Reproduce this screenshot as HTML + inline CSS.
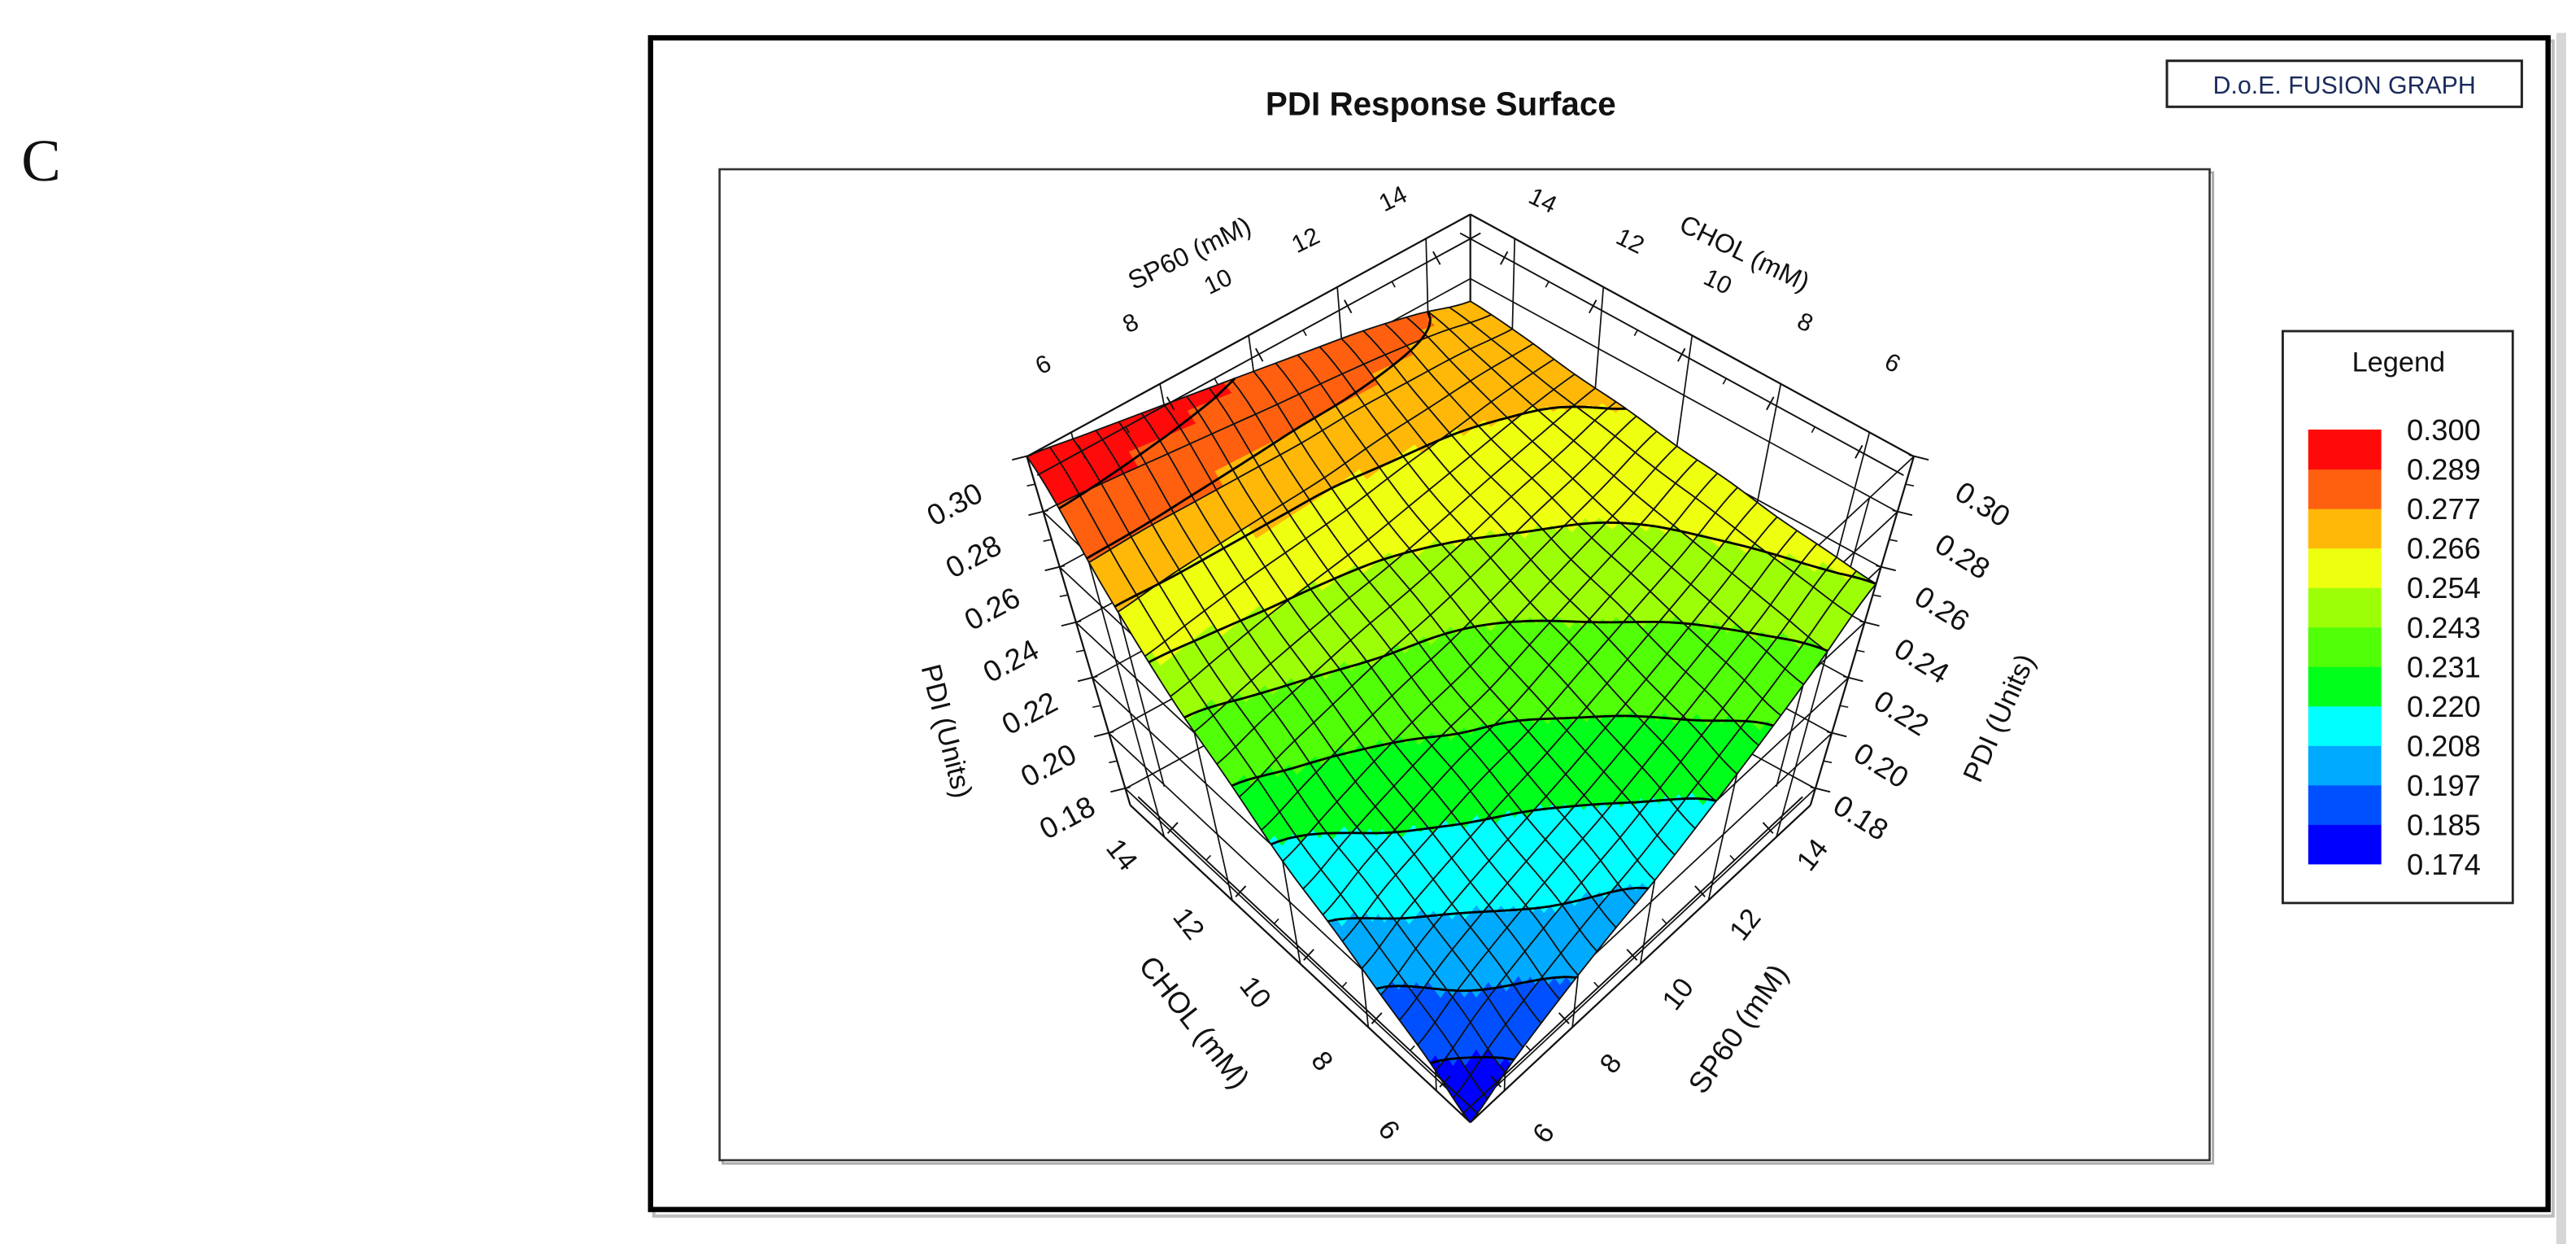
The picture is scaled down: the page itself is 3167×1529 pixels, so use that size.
<!DOCTYPE html>
<html><head><meta charset="utf-8"><title>PDI Response Surface</title>
<style>
html,body{margin:0;padding:0;background:#fff;}
body{width:3167px;height:1529px;overflow:hidden;}
svg{display:block;}
text{font-family:"Liberation Sans",sans-serif;fill:#111;}
</style></head>
<body>
<svg id="chart" width="3167" height="1529" viewBox="0 0 1568 757" preserveAspectRatio="none" xmlns="http://www.w3.org/2000/svg">
  <text x="13" y="110" style="font-family:'Liberation Serif',serif;font-size:36px;">C</text>
  <rect x="1556" y="20" width="6" height="740" fill="#d6d6d6"/>
  <rect x="398" y="25" width="1156" height="715" fill="none" stroke="#bdbdbd" stroke-width="2"/>
  <rect x="396" y="23" width="1155" height="713" fill="#fff" stroke="#000" stroke-width="3.2"/>
  <text x="877" y="70" text-anchor="middle" style="font-size:20px;font-weight:bold;">PDI Response Surface</text>
  <rect x="1319" y="37" width="216" height="28" fill="#fff" stroke="#222" stroke-width="1.5"/>
  <text x="1427" y="57" text-anchor="middle" style="font-size:15px;fill:#1a2a5a;">D.o.E. FUSION GRAPH</text>
  <rect x="440" y="105" width="907" height="603" fill="none" stroke="#aaa" stroke-width="1.5"/>
  <rect x="438" y="103" width="907" height="603" fill="#fff" stroke="#333" stroke-width="1.3"/>
  <g id="plot3d"></g>
  <g>
    <rect x="1389.5" y="201.5" width="140" height="348" fill="#fff" stroke="#222" stroke-width="1.4"/>
    <text x="1460" y="226" text-anchor="middle" style="font-size:17px;">Legend</text>
    <g id="legendItems"></g>
  </g>
</svg>
<script>
// ---- data ----
const sp60 = [5, 6.25, 7.5, 8.75, 10, 11.25, 12.5, 13.75, 15];
const chol = [5, 6.25, 7.5, 8.75, 10, 11.25, 12.5, 13.75, 15];
// rows: chol index, columns: sp60 index
const pdiRow0 = [0.174,0.185,0.194,0.202,0.209,0.218,0.228,0.240,0.254];
const pdiRow1 = [0.186,0.196,0.204,0.211,0.217,0.225,0.234,0.244,0.256];
const pdiRow2 = [0.196,0.205,0.212,0.218,0.224,0.231,0.239,0.248,0.258];
const pdiRow3 = [0.207,0.215,0.221,0.227,0.231,0.238,0.245,0.252,0.261];
const pdiRow4 = [0.217,0.223,0.229,0.234,0.238,0.244,0.250,0.256,0.263];
const pdiRow5 = [0.232,0.237,0.241,0.245,0.248,0.252,0.257,0.261,0.266];
const pdiRow6 = [0.247,0.250,0.253,0.255,0.257,0.260,0.263,0.266,0.268];
const pdiRow7 = [0.270,0.271,0.271,0.271,0.271,0.272,0.272,0.272,0.271];
const pdiRow8 = [0.300,0.297,0.294,0.291,0.288,0.285,0.282,0.278,0.273];
const pdi = [pdiRow0,pdiRow1,pdiRow2,pdiRow3,pdiRow4,pdiRow5,pdiRow6,pdiRow7,pdiRow8];
const levels = [0.174,0.185,0.197,0.208,0.220,0.231,0.243,0.254,0.266,0.277,0.289,0.300];
const levelLabels = ["0.174","0.185","0.197","0.208","0.220","0.231","0.243","0.254","0.266","0.277","0.289","0.300"];
const bandColors = ["#0000ff","#0050ff","#00aaff","#00ffff","#00ff1a","#50ff08","#9cff08","#eeff10","#ffb808","#ff6010","#ff0a0a"];
const xTicks = [6, 8, 10, 12, 14];
const yTicks = [6, 8, 10, 12, 14];
const xMinorTicks = [7, 9, 11, 13];
const yMinorTicks = [7, 9, 11, 13];
const zTicks = [0.18, 0.20, 0.22, 0.24, 0.26, 0.28, 0.30];
const zMinorTicks = [0.19, 0.21, 0.23, 0.25, 0.27, 0.29];
const zTickLabels = ["0.18","0.20","0.22","0.24","0.26","0.28","0.30"];

// ---- axes / projection ----
const X_MIN=5, X_MAX=15, Y_MIN=5, Y_MAX=15, Z_MIN=0.174, Z_MAX=0.300;
const VP=[895,1188], FF=[895,683], FR=[1102,490], FL=[688,490], FB=[895,377], PERSP=0.304;
function uOf(x){return (x-X_MIN)/(X_MAX-X_MIN);}
function vOf(y){return (y-Y_MIN)/(Y_MAX-Y_MIN);}
function wOf(z){return (z-Z_MIN)/(Z_MAX-Z_MIN);}
function proj(u,v,w){
  const fx=(1-u)*(1-v)*FF[0]+u*(1-v)*FR[0]+(1-u)*v*FL[0]+u*v*FB[0];
  const fy=(1-u)*(1-v)*FF[1]+u*(1-v)*FR[1]+(1-u)*v*FL[1]+u*v*FB[1];
  const s=1+PERSP*w;
  return [VP[0]+(fx-VP[0])*s, VP[1]+(fy-VP[1])*s];
}
function cr(p0,p1,p2,p3,t){return 0.5*(2*p1+(-p0+p2)*t+(2*p0-5*p1+4*p2-p3)*t*t+(-p0+3*p1-3*p2+p3)*t*t*t);}
function gv(i,j){const n=sp60.length-1,m=chol.length-1;i=Math.max(0,Math.min(n,i));j=Math.max(0,Math.min(m,j));return pdi[j][i];}
function surf(u,v){
  const n=sp60.length-1,m=chol.length-1;
  const gx=u*n, gy=v*m;
  let ix=Math.min(n-1,Math.floor(gx)), iy=Math.min(m-1,Math.floor(gy));
  const tx=gx-ix, ty=gy-iy;
  const r=[];
  for(let k=-1;k<=2;k++) r.push(cr(gv(ix-1,iy+k),gv(ix,iy+k),gv(ix+1,iy+k),gv(ix+2,iy+k),tx));
  return cr(r[0],r[1],r[2],r[3],ty);
}
function bandOf(z){for(let b=0;b<bandColors.length;b++){if(z<levels[b+1])return b;}return bandColors.length-1;}

const NS="http://www.w3.org/2000/svg";
const G=document.getElementById('plot3d');
function mk(tag,attrs,parent){const e=document.createElementNS(NS,tag);for(const k in attrs)e.setAttribute(k,attrs[k]);(parent||G).appendChild(e);return e;}
function pt(p){return p[0].toFixed(2)+","+p[1].toFixed(2);}
function line(a,b,sw,name,col){
  const e=mk('line',{x1:a[0].toFixed(2),y1:a[1].toFixed(2),x2:b[0].toFixed(2),y2:b[1].toFixed(2),stroke:col||'#111','stroke-width':sw});
  
  
  return e;
}
function label(txt,x,y,rot,size,name){
  const e=mk('text',{x:x.toFixed(1),y:y.toFixed(1),'text-anchor':'middle','dominant-baseline':'central',transform:'rotate('+rot+' '+x.toFixed(1)+' '+y.toFixed(1)+')',style:'font-size:'+size+'px'});
  e.textContent=txt;
  
  
  return e;
}

// ---- back walls, floor, front wall guides ----
const wallW=0.85;
xTicks.forEach(t=>{line(proj(uOf(t),1,0),proj(uOf(t),1,1),wallW,'back-left-wall-gridline');});
zTicks.forEach(z=>{line(proj(0,1,wOf(z)),proj(1,1,wOf(z)),wallW,'back-left-wall-z-gridline');});
yTicks.forEach(t=>{line(proj(1,vOf(t),0),proj(1,vOf(t),1),wallW,'back-right-wall-gridline');});
zTicks.forEach(z=>{line(proj(1,0,wOf(z)),proj(1,1,wOf(z)),wallW,'back-right-wall-z-gridline');});
line(proj(1,1,0),proj(1,1,1),1.1,'back-corner-edge');
line(proj(0,1,1),proj(1,1,1),1.1,'back-left-top-edge');
line(proj(1,0,1),proj(1,1,1),1.1,'back-right-top-edge');
zTicks.forEach(z=>{line(proj(0,0,wOf(z)),proj(0,1,wOf(z)),wallW,'front-left-wall-z-gridline');});
zTicks.forEach(z=>{line(proj(0,0,wOf(z)),proj(1,0,wOf(z)),wallW,'front-right-wall-z-gridline');});
yTicks.forEach(t=>{line(proj(0,vOf(t),0),proj(0,vOf(t),1),wallW,'front-left-wall-gridline');});
xTicks.forEach(t=>{line(proj(uOf(t),0,0),proj(uOf(t),0,1),wallW,'front-right-wall-gridline');});
line(proj(0,0,0),proj(0,1,0),1.1,'floor-front-left-edge');
line(proj(0,0,0),proj(1,0,0),1.1,'floor-front-right-edge');

// ---- surface fill ----
const N=60;
const vals=[];
for(let j=0;j<=N;j++){vals.push([]);for(let i=0;i<=N;i++)vals[j].push(surf(i/N,j/N));}
function sp(i,j){return proj(i/N,j/N,wOf(vals[j][i]));}
const surfG=mk('g',{});


for(let j=0;j<N;j++){for(let i=0;i<N;i++){
  const zc=(vals[j][i]+vals[j][i+1]+vals[j+1][i]+vals[j+1][i+1])/4;
  const col=bandColors[bandOf(zc)];
  const c=mk('path',{d:'M'+pt(sp(i,j))+'L'+pt(sp(i+1,j))+'L'+pt(sp(i+1,j+1))+'L'+pt(sp(i,j+1))+'Z',fill:col,stroke:col,'stroke-width':0.4},surfG);
  
  
}}
// ---- mesh lines ----
const M=20;
for(let k=0;k<=M;k++){
  let d1='',d2='';
  for(let s=0;s<=N;s++){
    const a=k/M,b=s/N;
    const p1=proj(a,b,wOf(surf(a,b)));
    const p2=proj(b,a,wOf(surf(b,a)));
    d1+=(s?'L':'M')+pt(p1); d2+=(s?'L':'M')+pt(p2);
  }
  const m1=mk('path',{d:d1,fill:'none',stroke:'#111','stroke-width':0.9});
  
  
  const m2=mk('path',{d:d2,fill:'none',stroke:'#111','stroke-width':0.9});
  
  
}
// ---- contour lines ----
for(let L=1;L<levels.length-1;L++){
  const lv=levels[L]; let d='';
  for(let j=0;j<N;j++){for(let i=0;i<N;i++){
    const c=[[i,j],[i+1,j],[i+1,j+1],[i,j+1]];
    const pts=[];
    for(let e=0;e<4;e++){
      const A=c[e],B=c[(e+1)%4];
      const za=vals[A[1]][A[0]], zb=vals[B[1]][B[0]];
      if((za<lv)!==(zb<lv)){
        const t=(lv-za)/(zb-za);
        pts.push(proj((A[0]+t*(B[0]-A[0]))/N,(A[1]+t*(B[1]-A[1]))/N,wOf(lv)));
      }
    }
    if(pts.length>=2){d+='M'+pt(pts[0])+'L'+pt(pts[1]);}
    if(pts.length===4){d+='M'+pt(pts[2])+'L'+pt(pts[3]);}
  }}
  const cl=mk('path',{d:d,fill:'none',stroke:'#000','stroke-width':1.4});
  
  
}

// ---- axes ----
function offLine(a,b,dist,sign){const dx=b[0]-a[0],dy=b[1]-a[1],l=Math.hypot(dx,dy);const nx=-dy/l*sign*dist,ny=dx/l*sign*dist;return [[a[0]+nx,a[1]+ny],[b[0]+nx,b[1]+ny],[nx/dist,ny/dist]];}
function axisAlong(pa,pb,dist,sign,ticksPos,minorPos,name){
  const o=offLine(pa,pb,dist,sign);
  line(o[0],o[1],0.95,name+'-line');
  ticksPos.forEach(p=>{
    const q=[p[0]+o[2][0]*dist,p[1]+o[2][1]*dist];
    line([q[0]-o[2][0]*4,q[1]-o[2][1]*4],[q[0]+o[2][0]*5,q[1]+o[2][1]*5],0.95,name+'-tick');
  });
  minorPos.forEach(p=>{
    const q=[p[0]+o[2][0]*dist,p[1]+o[2][1]*dist];
    line([q[0],q[1]],[q[0]+o[2][0]*4,q[1]+o[2][1]*4],0.8,name+'-minor-tick');
  });
}
function lerp(a,b,t){return a+(b-a)*t;}
axisAlong(proj(0,1,1),proj(1,1,1),13,1,xTicks.map(t=>proj(uOf(t),1,1)),xMinorTicks.map(t=>proj(uOf(t),1,1)),'top-sp60-axis');
xTicks.forEach(t=>{const p=proj(uOf(t),1,1);const f=(uOf(t)-0.1)/0.8;
  label(String(t),p[0]+lerp(-17,-20,f),p[1]+lerp(-41,-24,f),-26,15,'top-sp60-tick-label');});
label('SP60 (mM)',724,154,-26,16,'top-sp60-axis-title');
axisAlong(proj(1,0,1),proj(1,1,1),13,-1,yTicks.map(t=>proj(1,vOf(t),1)),yMinorTicks.map(t=>proj(1,vOf(t),1)),'top-chol-axis');
yTicks.forEach(t=>{const p=proj(1,vOf(t),1);const f=(vOf(t)-0.1)/0.8;
  label(String(t),p[0]+lerp(14,17,f),p[1]+lerp(-42,-23,f),26,15,'top-chol-tick-label');});
label('CHOL (mM)',1062,154,26,16,'top-chol-axis-title');
axisAlong(proj(0,0,0),proj(0,1,0),7,1,yTicks.map(t=>proj(0,vOf(t),0)),yMinorTicks.map(t=>proj(0,vOf(t),0)),'bottom-chol-axis');
yTicks.forEach(t=>{const p=proj(0,vOf(t),0);const f=(vOf(t)-0.1)/0.8;
  label(String(t),p[0]+lerp(-29,-26,f),p[1]+lerp(24,11,f),52,17,'bottom-chol-tick-label');});
label('CHOL (mM)',727,622,52,18,'bottom-chol-axis-title');
axisAlong(proj(0,0,0),proj(1,0,0),7,-1,xTicks.map(t=>proj(uOf(t),0,0)),xMinorTicks.map(t=>proj(uOf(t),0,0)),'bottom-sp60-axis');
xTicks.forEach(t=>{const p=proj(uOf(t),0,0);const f=(uOf(t)-0.1)/0.8;
  label(String(t),p[0]+lerp(24,22,f),p[1]+lerp(26,11,f),-52,17,'bottom-sp60-tick-label');});
label('SP60 (mM)',1058,626,-55,18,'bottom-sp60-axis-title');
line(proj(0,1,0),proj(0,1,1),1.1,'left-z-axis-line');
line(proj(1,0,0),proj(1,0,1),1.1,'right-z-axis-line');
zTicks.forEach((z,k)=>{const w=wOf(z);
  const a=proj(0,1,w); line([a[0]-9,a[1]+2],[a[0]+3,a[1]-1],0.95,'left-z-tick');
  label(zTickLabels[k],a[0]-35-9*w,a[1]+17+12*w,-28,18,'left-z-tick-label');
  const b=proj(1,0,w); line([b[0]-3,b[1]-1],[b[0]+9,b[1]+2],0.95,'right-z-tick');
  label(zTickLabels[k],b[0]+27+15*w,b[1]+17+12*w,32,18,'right-z-tick-label');
});
zMinorTicks.forEach(z=>{const w=wOf(z);
  const a=proj(0,1,w); line([a[0]-5,a[1]+1],[a[0],a[1]],0.8,'left-z-minor-tick');
  const b=proj(1,0,w); line([b[0],b[1]],[b[0]+5,b[1]+1],0.8,'right-z-minor-tick');
});
label('PDI (Units)',576,445,76,17,'left-z-axis-title');
label('PDI (Units)',1217,437,-66,17,'right-z-axis-title');

// ---- legend ----
const LG=document.getElementById('legendItems');
const SW_X=1405, SW_W=44.5, SW_TOP=261.4, SW_BOT=525.7;
const nb=bandColors.length, rowH=(SW_BOT-SW_TOP)/nb;
for(let b=0;b<nb;b++){
  const y=SW_BOT-(b+1)*rowH;
  const r=mk('rect',{x:SW_X,y:y.toFixed(2),width:SW_W,height:(rowH+0.3).toFixed(2),fill:bandColors[b]},LG);
  
  
}
levelLabels.forEach((t,k)=>{
  const y=SW_BOT-k*rowH;
  const e=mk('text',{x:1465,y:(y+6.5).toFixed(2),style:'font-size:18px'},LG);
  e.textContent=t;
  
  
});
</script>
</body></html>
